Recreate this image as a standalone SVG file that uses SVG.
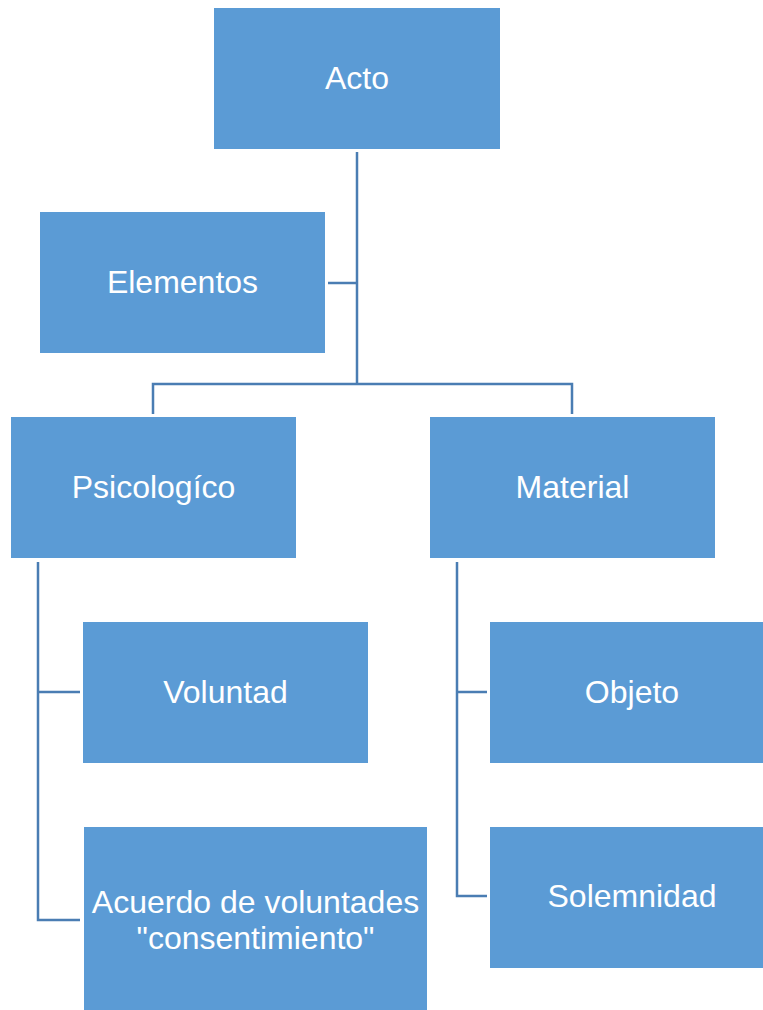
<svg xmlns="http://www.w3.org/2000/svg" width="763" height="1010" viewBox="0 0 763 1010">
<style>
.box{fill:#5B9BD5;}
.lbl{font-family:"Liberation Sans",Arial,sans-serif;font-size:32px;fill:#FFFFFF;text-anchor:middle;}
.con{fill:none;stroke:#4A7DB3;stroke-width:2.5;}
</style>
<rect width="763" height="1010" fill="#FFFFFF"/>
<g id="connectors">
<path class="con" d="M357,152 V384"/>
<path class="con" d="M328,283 H357"/>
<path class="con" d="M153,414 V384 H572 V414"/>
<path class="con" d="M80,692 H38 M38,562 V920 H80"/>
<path class="con" d="M487,692 H457 M457,562 V896 H487"/>
</g>
<g id="acto"><rect class="box" x="214" y="8" width="286" height="141"/><text class="lbl" x="357" y="89">Acto</text></g>
<g id="elementos"><rect class="box" x="40" y="212" width="285" height="141"/><text class="lbl" x="182.5" y="293">Elementos</text></g>
<g id="psicologico"><rect class="box" x="11" y="417" width="285" height="141"/><text class="lbl" x="153.5" y="498">Psicologíco</text></g>
<g id="material"><rect class="box" x="430" y="417" width="285" height="141"/><text class="lbl" x="572.5" y="498">Material</text></g>
<g id="voluntad"><rect class="box" x="83" y="622" width="285" height="141"/><text class="lbl" x="225.5" y="703">Voluntad</text></g>
<g id="objeto"><rect class="box" x="490" y="622" width="285" height="141"/><text class="lbl" x="632" y="703">Objeto</text></g>
<g id="acuerdo"><rect class="box" x="84" y="827" width="343" height="190"/><text class="lbl" x="255.5" y="913">Acuerdo de voluntades</text><text class="lbl" x="255.5" y="949">"consentimiento"</text></g>
<g id="solemnidad"><rect class="box" x="490" y="827" width="285" height="141"/><text class="lbl" x="632" y="907">Solemnidad</text></g>
</svg>
